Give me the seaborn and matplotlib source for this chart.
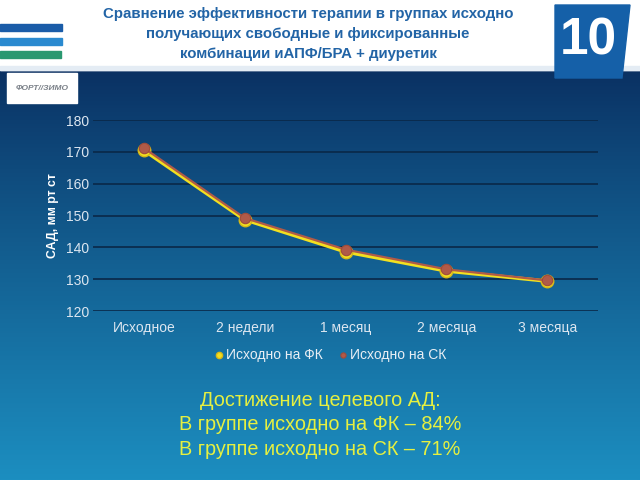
import numpy as np
import pandas as pd
import matplotlib
matplotlib.use("Agg")
import matplotlib.pyplot as plt
from matplotlib.patches import Rectangle, Polygon
import seaborn as sns

# data
periods = ["Исходное", "2 недели", "1 месяц", "2 месяца", "3 месяца"]
sad_fk = [170.5, 148.7, 138.6, 132.6, 129.4]
sad_sk = [171.2, 149.2, 139.3, 133.1, 129.6]
series_names = ["Исходно на ФК", "Исходно на СК"]

df = pd.DataFrame({
    "period": periods * 2,
    "sad": sad_fk + sad_sk,
    "group": [series_names[0]] * 5 + [series_names[1]] * 5,
})

sns.set_theme(style="white")
plt.rcParams['font.family'] = ['Liberation Sans', 'DejaVu Sans']

fig = plt.figure(figsize=(6.4, 4.8), dpi=100)

# background: white header + blue gradient
bg = fig.add_axes([0, 0, 1, 1], zorder=0)
bg.set_xlim(0, 640)
bg.set_ylim(480, 0)
bg.axis("off")
top = np.array([10, 48, 98]) / 255
bot = np.array([28, 142, 192]) / 255
t = np.linspace(0, 1, 256)[:, None]
grad = top + (bot - top) * t ** 0.9
bg.imshow(grad[:, None, :].repeat(2, axis=1), extent=[0, 640, 480, 70], aspect="auto")
bg.add_patch(Rectangle((0, 0), 640, 70, color="white"))
bg.add_patch(Rectangle((0, 66), 640, 4, color="#e4ecf4"))
# left header stripes
bg.add_patch(Rectangle((0, 24), 62, 7, color="#1a5ca8"))
bg.add_patch(Rectangle((0, 38), 62, 7, color="#2a8ad0"))
bg.add_patch(Rectangle((0, 51), 61, 7, color="#2a9870"))
# slide number box
bg.add_patch(Polygon([[555, 5], [630, 5], [622, 78], [555, 78]], color="#1560a8"))
bg.text(588, 41, "10", color="white", fontsize=37, fontweight="bold",
        ha="center", va="center", family=["Liberation Sans Narrow", "Liberation Sans"])
# logo box
bg.add_patch(Rectangle((7, 73), 70, 30, color="white"))
bg.text(42, 88, "ФОРТ//ЗИМО", color="#7a8088", fontsize=6, fontweight="bold",
        style="italic", ha="center", va="center")

title = ("Сравнение эффективности терапии в группах исходно\n"
         "получающих свободные и фиксированные\n"
         "комбинации иАПФ/БРА + диуретик")
bg.text(308, 34, title, color="#2264a6", fontsize=10.8, fontweight="bold",
        ha="center", va="center", linespacing=1.56)

summary = ("Достижение целевого АД:\n"
           "В группе исходно на ФК – 84%\n"
           "В группе исходно на СК – 71%")
bg.text(320, 425, summary, color="#e6f040", fontsize=14.3,
        ha="center", va="center", linespacing=1.36)

# chart
ax = fig.add_axes([0.146, 0.352, 0.788, 0.398], zorder=2)
ax.patch.set_alpha(0)
sns.lineplot(data=df[df.group == series_names[0]], x="period", y="sad",
             color="#f2e020", lw=2.6, marker="o", markersize=9,
             markeredgecolor="#d8b818", markeredgewidth=1, ax=ax,
             label=series_names[0], zorder=3)
sns.lineplot(data=df[df.group == series_names[1]], x="period", y="sad",
             color="#b05a48", lw=1.6, marker="o", markersize=7.5,
             markeredgecolor="#a04a3a", markeredgewidth=0.8, ax=ax,
             label=series_names[1], zorder=4)

ax.set_ylim(120, 180)
ax.set_yticks(range(120, 181, 10))
ax.set_xlim(-0.5, 4.5)
ax.grid(axis="y", color="#0a2848", lw=1.2)
ax.set_axisbelow(True)
for s in ax.spines.values():
    s.set_visible(False)
ax.tick_params(colors="#dce6f0", labelsize=10, length=0)
ax.tick_params(axis="y", pad=3)
ax.tick_params(axis="x", pad=7)
ax.set_xlabel("")
ax.set_ylabel("САД, мм рт ст", color="white", fontsize=8.8, fontweight="bold", labelpad=5)

leg = ax.legend(loc="upper center", bbox_to_anchor=(0.47, -0.13), ncol=2, frameon=False,
                fontsize=10, handlelength=0.6, handletextpad=0.2, columnspacing=1.2,
                markerscale=0.5)
for txt in leg.get_texts():
    txt.set_color("#e8eef4")
for h in leg.legend_handles:
    h.set_linewidth(0)

fig.savefig("out.png", dpi=100)
